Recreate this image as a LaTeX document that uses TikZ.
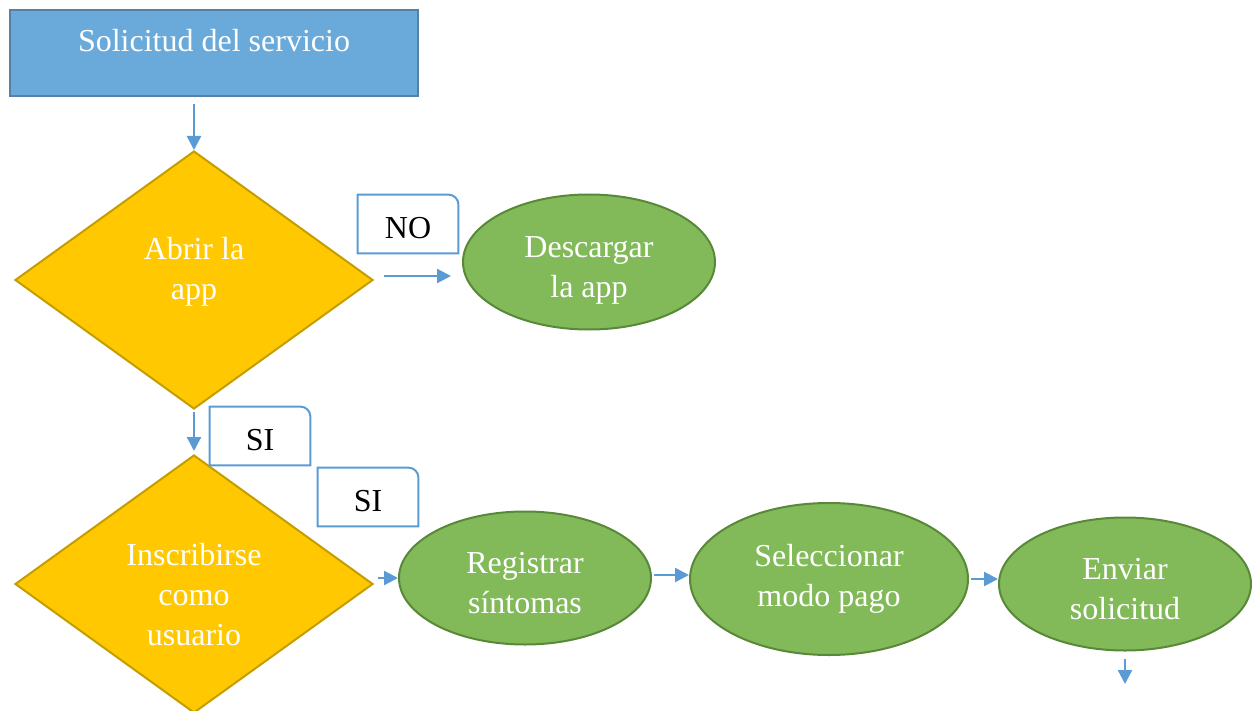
\documentclass[tikz,border=0pt]{standalone}
\usepackage{fontspec}
\setmainfont{Liberation Serif}
\usepackage{xcolor}
\usetikzlibrary{arrows.meta,positioning,shapes.geometric}

\definecolor{boxblue}{RGB}{106,170,219}
\definecolor{boxblueline}{RGB}{84,128,170}
\definecolor{gold}{RGB}{255,200,0}
\definecolor{goldline}{RGB}{196,158,0}
\definecolor{leaf}{RGB}{130,186,90}
\definecolor{leafline}{RGB}{88,136,56}
\definecolor{linkblue}{RGB}{91,155,213}

\begin{document}
\begin{tikzpicture}[
    x=0.5pt, y=-0.5pt,
    txt/.style={font=\fontsize{16}{20}\selectfont, align=center},
    startbox/.style={txt, rectangle, draw=boxblueline, line width=1.2pt, fill=boxblue, text=white,
        minimum width=204pt, inner sep=0pt, text height=21pt, text depth=22pt},
    decision/.style={txt, diamond, draw=goldline, line width=1pt, fill=gold, text=white,
        minimum width=179pt, minimum height=129pt, inner sep=0pt},
    task/.style={txt, ellipse, draw=leafline, line width=1pt, fill=leaf, text=white, inner sep=0pt},
    tag/.style={txt, minimum width=50pt, minimum height=29pt, inner sep=0pt, text height=14.5pt, text depth=0pt},
    arrow/.style={-{Triangle[length=7pt,width=7pt]}, draw=linkblue, line width=1.2pt}
]
    \useasboundingbox (0,0) rectangle (1252,711);

    \node[startbox] (start) at (214,53) {Solicitud del servicio};
    \node[decision, text height=31pt, text depth=11.5pt] (app) at (194,280) {Abrir la\\app};
    \node[task, minimum width=126pt, minimum height=67.5pt, text height=39pt, text depth=3.5pt]
        (download) at (589,262) {Descargar\\la app};
    \node[decision, text height=61pt, text depth=0pt] (signup) at (194,584) {Inscribirse\\como\\usuario};
    \node[task, minimum width=126pt, minimum height=66.5pt, text height=35pt, text depth=0pt]
        (symptoms) at (525,578) {Registrar\\síntomas};
    \node[task, minimum width=139pt, minimum height=76pt] (payment) at (829,579) {Seleccionar\\modo pago};
    \node[task, minimum width=126pt, minimum height=66.5pt, text height=35pt, text depth=0pt]
        (send) at (1125,584) {Enviar\\solicitud};
    \coordinate (next) at (1125,684);

    % answer tags
    \node[tag] (no) at (408,224) {NO};
    \node[tag] (si1) at (260,436) {SI};
    \node[tag] (si2) at (368,497) {SI};
    \foreach \t in {no,si1,si2}
        \draw[linkblue, line width=1pt] (\t.south west) -- (\t.north west)
            -- ([xshift=-5pt]\t.north east) arc[start angle=90, end angle=0, radius=5pt]
            -- (\t.south east) -- cycle;

    \draw[arrow, shorten <=3.5pt] (start.south -| app.north) -- (app.north);
    \draw[arrow, shorten <=5pt, shorten >=5.5pt] ([yshift=2pt]app.east) -- ([yshift=2pt]app.east -| download.west);
    \draw[arrow, shorten <=1pt, shorten >=1.5pt] (app.south) -- (signup.north);
    \draw[arrow, shorten <=2pt] (signup.east |- symptoms.west) -- (symptoms.west);
    \draw[arrow, shorten <=1pt] ([yshift=1.5pt]symptoms.east) -- ([yshift=1.5pt]symptoms.east -| payment.west);
    \draw[arrow, shorten <=1pt] (payment.east) -- (payment.east -| send.west);
    \draw[arrow, shorten <=3.5pt] (send.south) -- (next);
\end{tikzpicture}
\end{document}
